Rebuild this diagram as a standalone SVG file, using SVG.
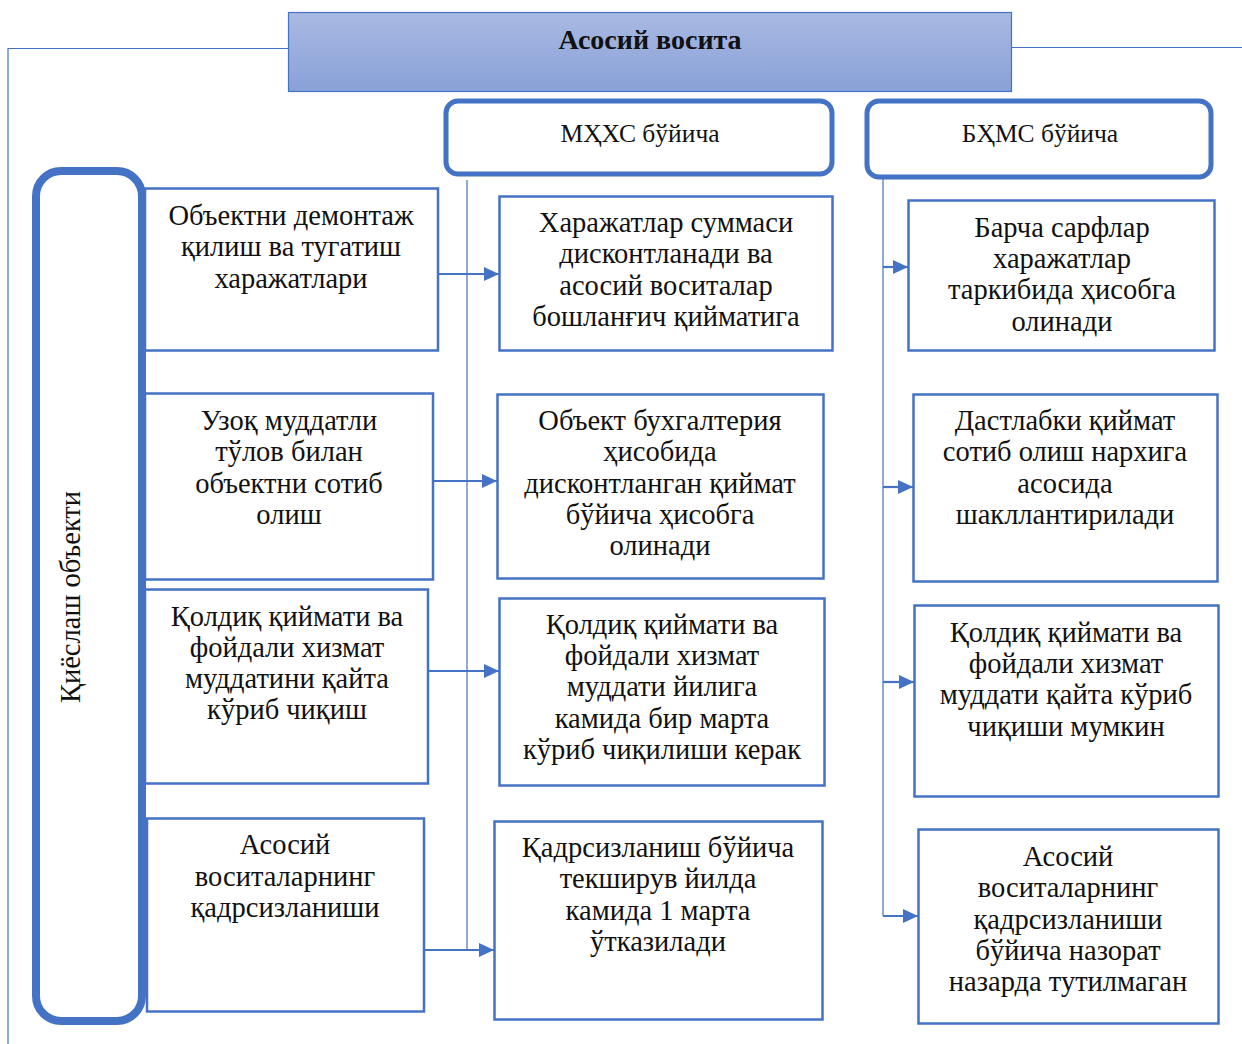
<svg xmlns="http://www.w3.org/2000/svg" width="1242" height="1044" viewBox="0 0 1242 1044">
<defs>
<linearGradient id="hdr" x1="0" y1="0" x2="0" y2="1">
<stop offset="0" stop-color="#a9b9e2"/>
<stop offset="1" stop-color="#89a1d8"/>
</linearGradient>
<marker id="ah" markerUnits="userSpaceOnUse" markerWidth="16" markerHeight="16" refX="15" refY="8" orient="auto">
<path d="M0,1 L15,8 L0,15 z" fill="#4472c4"/>
</marker>
<style>
.t{font-family:"Liberation Serif","DejaVu Serif",serif;font-size:28.5px;fill:#111;text-anchor:middle}
.ttl{font-size:28px;font-weight:bold}
.hd{font-size:25.5px}
.b{fill:#fff;stroke:#4472c4;stroke-width:2.5}
.rb{fill:#fff;stroke:#4472c4;stroke-width:5}
.ar{fill:none;stroke:#4472c4;stroke-width:2.2}
.thin{fill:none;stroke:#4472c4;stroke-width:1.2}
.vl{fill:none;stroke:#8eaadc;stroke-width:2}
</style>
</defs>
<rect width="1242" height="1044" fill="#fff"/>

<g id="connectors">
<path class="thin" d="M288,48.5 H8 V1044"/>
<path class="thin" d="M1012,47.5 H1242"/>
<path class="vl" d="M467,180 V950"/>
<path class="thin" stroke-width="1.6" d="M883,179 V916"/>
<path class="ar" marker-end="url(#ah)" d="M438,274 H499"/>
<path class="ar" marker-end="url(#ah)" d="M433,481 H497"/>
<path class="ar" marker-end="url(#ah)" d="M428,671 H499"/>
<path class="ar" marker-end="url(#ah)" d="M424,950 H494"/>
<path class="ar" marker-end="url(#ah)" d="M883,267 H908"/>
<path class="ar" marker-end="url(#ah)" d="M883,487 H913"/>
<path class="ar" marker-end="url(#ah)" d="M883,682 H914"/>
<path class="ar" marker-end="url(#ah)" d="M883,916 H918"/>
</g>

<g id="header">
<rect x="288.5" y="12.5" width="723" height="79" fill="url(#hdr)" stroke="#4472c4" stroke-width="1.2"/>
<text class="t ttl" x="650" y="48.5">Асосий восита</text>
</g>

<g id="mhhs">
<rect class="rb" x="446" y="101" width="386" height="73" rx="12"/>
<text class="t hd" x="640" y="142">МҲХС бўйича</text>
</g>

<g id="bhms">
<rect class="rb" x="867" y="101" width="344" height="76" rx="12"/>
<text class="t hd" x="1040" y="142">БҲМС бўйича</text>
</g>

<g id="compare">
<rect x="36" y="171" width="106" height="850" rx="25" fill="#fff" stroke="#4472c4" stroke-width="8"/>
<text class="t" transform="translate(80,597) rotate(-90)" x="0" y="0">Қиёслаш объекти</text>
</g>

<g id="l1">
<rect class="b" x="145" y="188.5" width="293" height="162"/>
<text class="t" x="291"><tspan x="291" y="225">Объектни демонтаж</tspan><tspan x="291" y="256">қилиш ва тугатиш</tspan><tspan x="291" y="288">харажатлари</tspan></text>
</g>
<g id="l2">
<rect class="b" x="145" y="393.5" width="288" height="186"/>
<text class="t" x="289"><tspan x="289" y="430">Узоқ муддатли</tspan><tspan x="289" y="461">тўлов билан</tspan><tspan x="289" y="493">объектни сотиб</tspan><tspan x="289" y="524">олиш</tspan></text>
</g>
<g id="l3">
<rect class="b" x="145" y="589.5" width="283" height="194"/>
<text class="t" x="287"><tspan x="287" y="626">Қолдиқ қиймати ва</tspan><tspan x="287" y="657">фойдали хизмат</tspan><tspan x="287" y="688">муддатини қайта</tspan><tspan x="287" y="719">кўриб чиқиш</tspan></text>
</g>
<g id="l4">
<rect class="b" x="147" y="818.5" width="277" height="193"/>
<text class="t" x="285"><tspan x="285" y="854">Асосий</tspan><tspan x="285" y="886">воситаларнинг</tspan><tspan x="285" y="917">қадрсизланиши</tspan></text>
</g>

<g id="m1">
<rect class="b" x="499.5" y="196.5" width="333" height="154"/>
<text class="t" x="666"><tspan x="666" y="232">Харажатлар суммаси</tspan><tspan x="666" y="263">дисконтланади ва</tspan><tspan x="666" y="295">асосий воситалар</tspan><tspan x="666" y="326">бошланғич қийматига</tspan></text>
</g>
<g id="m2">
<rect class="b" x="497.5" y="394.5" width="326" height="184"/>
<text class="t" x="660"><tspan x="660" y="430">Объект бухгалтерия</tspan><tspan x="660" y="461">ҳисобида</tspan><tspan x="660" y="493">дисконтланган қиймат</tspan><tspan x="660" y="524">бўйича ҳисобга</tspan><tspan x="660" y="555">олинади</tspan></text>
</g>
<g id="m3">
<rect class="b" x="499.5" y="598.5" width="325" height="187"/>
<text class="t" x="662"><tspan x="662" y="634">Қолдиқ қиймати ва</tspan><tspan x="662" y="665">фойдали хизмат</tspan><tspan x="662" y="696">муддати йилига</tspan><tspan x="662" y="728">камида бир марта</tspan><tspan x="662" y="759">кўриб чиқилиши керак</tspan></text>
</g>
<g id="m4">
<rect class="b" x="494.5" y="821.5" width="328" height="198"/>
<text class="t" x="658"><tspan x="658" y="857">Қадрсизланиш бўйича</tspan><tspan x="658" y="888">текширув йилда</tspan><tspan x="658" y="920">камида 1 марта</tspan><tspan x="658" y="951">ўтказилади</tspan></text>
</g>

<g id="r1">
<rect class="b" x="908.5" y="200.5" width="306" height="150"/>
<text class="t" x="1062"><tspan x="1062" y="237">Барча сарфлар</tspan><tspan x="1062" y="268">харажатлар</tspan><tspan x="1062" y="299">таркибида ҳисобга</tspan><tspan x="1062" y="331">олинади</tspan></text>
</g>
<g id="r2">
<rect class="b" x="913.5" y="394.5" width="304" height="187"/>
<text class="t" x="1065"><tspan x="1065" y="430">Дастлабки қиймат</tspan><tspan x="1065" y="461">сотиб олиш нархига</tspan><tspan x="1065" y="493">асосида</tspan><tspan x="1065" y="524">шакллантирилади</tspan></text>
</g>
<g id="r3">
<rect class="b" x="914.5" y="605.5" width="304" height="191"/>
<text class="t" x="1066"><tspan x="1066" y="642">Қолдиқ қиймати ва</tspan><tspan x="1066" y="673">фойдали хизмат</tspan><tspan x="1066" y="704">муддати қайта кўриб</tspan><tspan x="1066" y="736">чиқиши мумкин</tspan></text>
</g>
<g id="r4">
<rect class="b" x="918.5" y="829.5" width="300" height="194"/>
<text class="t" x="1068"><tspan x="1068" y="866">Асосий</tspan><tspan x="1068" y="897">воситаларнинг</tspan><tspan x="1068" y="929">қадрсизланиши</tspan><tspan x="1068" y="960">бўйича назорат</tspan><tspan x="1068" y="991">назарда тутилмаган</tspan></text>
</g>
</svg>
